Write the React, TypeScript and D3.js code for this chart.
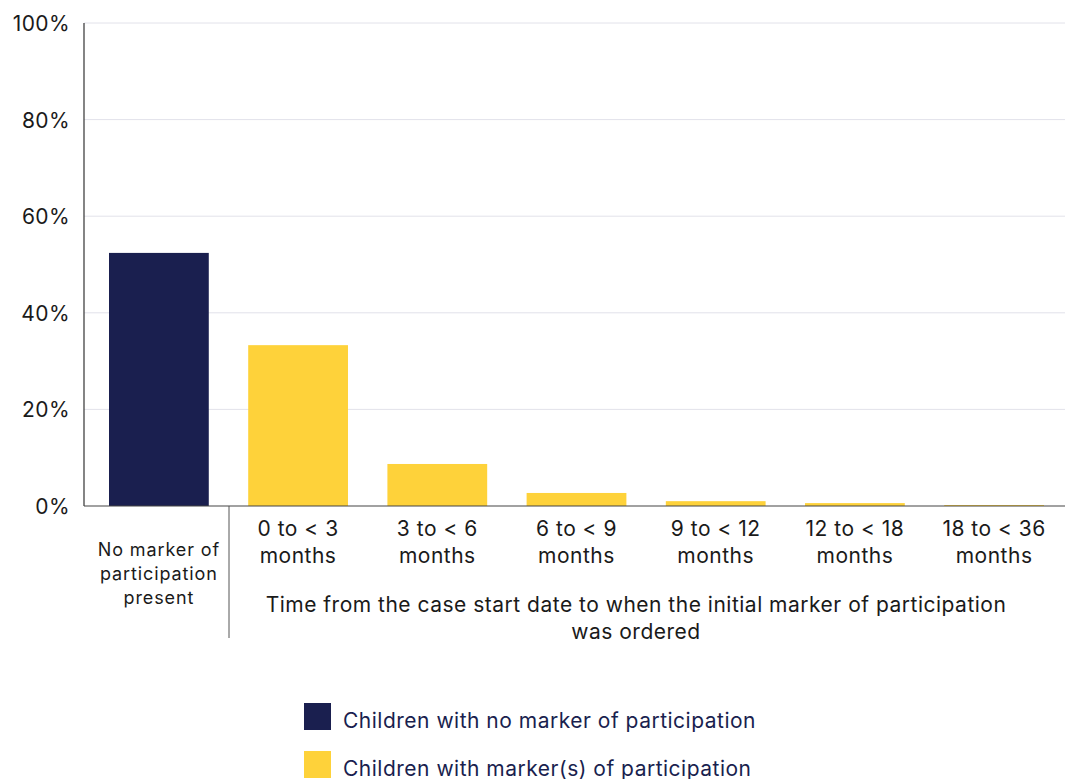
import React from "react";
import * as d3 from "d3";

const categories: string[][] = [
  ["No marker of", "participation", "present"],
  ["0 to < 3", "months"],
  ["3 to < 6", "months"],
  ["6 to < 9", "months"],
  ["9 to < 12", "months"],
  ["12 to < 18", "months"],
  ["18 to < 36", "months"],
];
const values: number[] = [52.4, 33.3, 8.7, 2.7, 1.0, 0.6, 0.2];
const seriesOf: number[] = [0, 1, 1, 1, 1, 1, 1];
const yTicks: number[] = [0, 20, 40, 60, 80, 100];
const legendLabels: string[] = [
  "Children with no marker of participation",
  "Children with marker(s) of participation",
];
const colors: string[] = ["#1a1f4f", "#fed23a"];
const axisTitle: string[] = [
  "Time from the case start date to when the initial marker of participation",
  "was ordered",
];

const FONT = "Inter, 'Liberation Sans', sans-serif";

export default function App() {
  const W = 1065, H = 779;
  const axisX = 84, plotRight = 1065;
  const y = d3.scaleLinear().domain([0, 100]).range([506, 23]);
  const x = d3
    .scaleBand<number>()
    .domain(values.map((_, i) => i))
    .range([109, 1044])
    .paddingInner(0.2832)
    .paddingOuter(0);

  return (
    <svg width={W} height={H} style={{ position: "absolute", left: 0, top: 0 }} fontFamily={FONT}>
      {yTicks.map((t) => (
        <g key={t}>
          {t > 0 && (
            <line x1={axisX} x2={plotRight} y1={y(t)} y2={y(t)} stroke="#e2e2ea" strokeWidth={1} />
          )}
          <text x={70} y={y(t) + 8} textAnchor="end" fontSize={21} letterSpacing={0.4} fill="#1a1a1a">
            {t}%
          </text>
        </g>
      ))}
      {values.map((v, i) => (
        <rect
          key={i}
          x={x(i)}
          y={y(v)}
          width={x.bandwidth()}
          height={y(0) - y(v)}
          fill={colors[seriesOf[i]]}
        />
      ))}
      <line x1={axisX} x2={axisX} y1={y(100)} y2={y(0)} stroke="#333" strokeWidth={1.2} />
      <line x1={axisX} x2={plotRight} y1={y(0)} y2={y(0)} stroke="#444" strokeWidth={1.2} />
      <line x1={229} x2={229} y1={y(0)} y2={638} stroke="#555" strokeWidth={1} />
      {categories.map((lines, i) => {
        const cx = (x(i) as number) + x.bandwidth() / 2;
        if (i === 0) {
          return (
            <text key={i} textAnchor="middle" fontSize={18} letterSpacing={0.9} fill="#1a1a1a">
              {lines.map((l, j) => (
                <tspan key={j} x={cx} y={556 + j * 24}>
                  {l}
                </tspan>
              ))}
            </text>
          );
        }
        return (
          <text key={i} textAnchor="middle" fontSize={21} letterSpacing={0.5} fill="#1a1a1a">
            {lines.map((l, j) => (
              <tspan key={j} x={cx} y={536 + j * 27}>
                {l}
              </tspan>
            ))}
          </text>
        );
      })}
      <text textAnchor="middle" fontSize={21} letterSpacing={0.5} fill="#1a1a1a">
        {axisTitle.map((l, j) => (
          <tspan key={j} x={636} y={612 + j * 27}>
            {l}
          </tspan>
        ))}
      </text>
      {legendLabels.map((l, i) => (
        <g key={i}>
          <rect x={304} y={703 + i * 48} width={27} height={27} fill={colors[i]} />
          <text x={343} y={728 + i * 48} fontSize={21} letterSpacing={0.5} fill="#1a1f4f">
            {l}
          </text>
        </g>
      ))}
    </svg>
  );
}
